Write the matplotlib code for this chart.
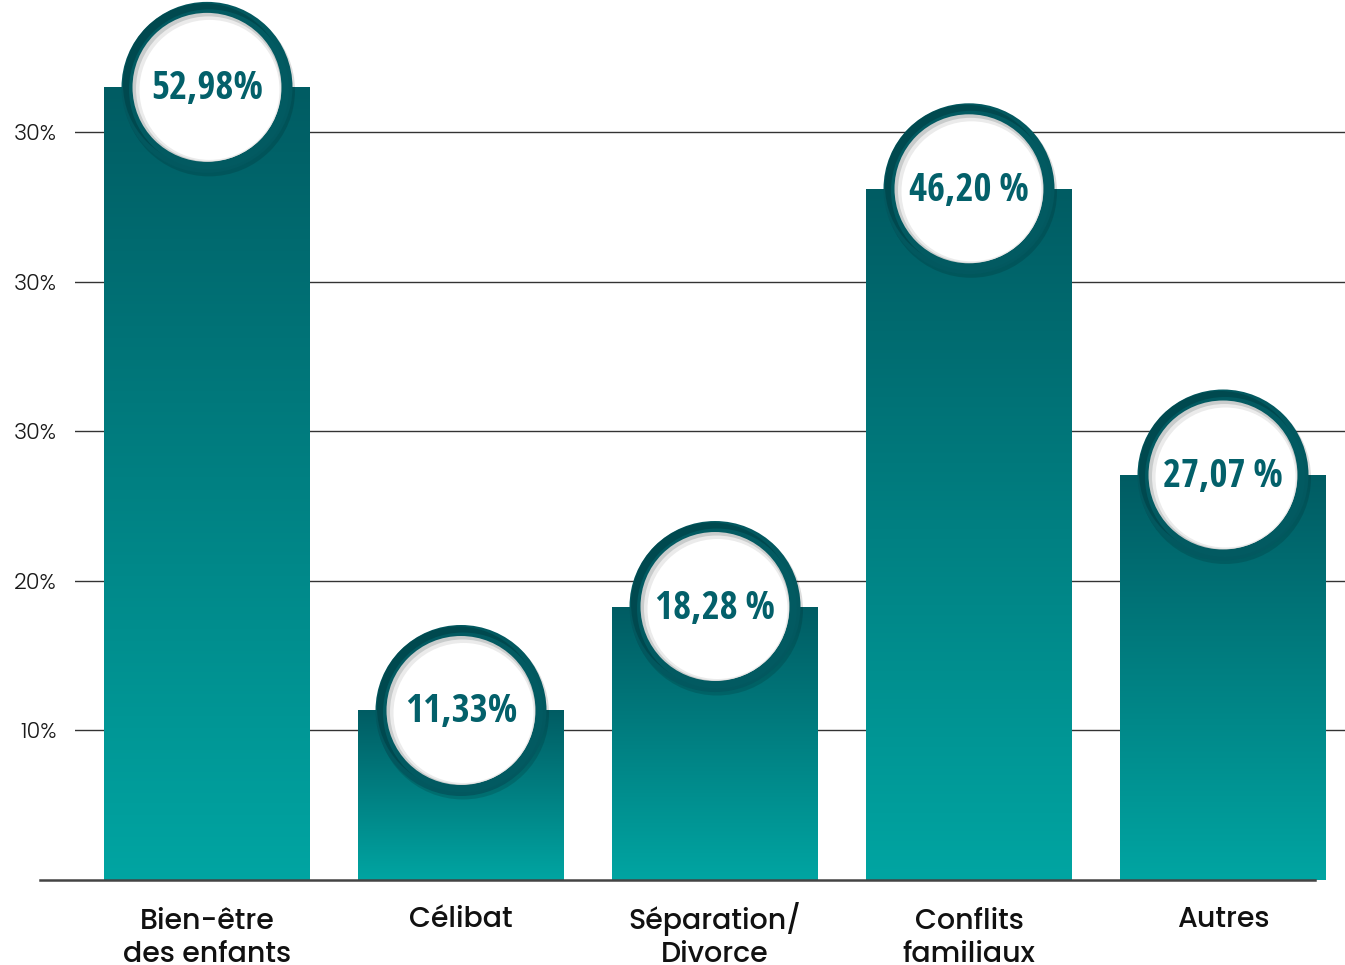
import matplotlib
matplotlib.use("Agg")
import matplotlib.pyplot as plt
import numpy as np
from matplotlib.patches import Circle, Rectangle
from matplotlib.colors import LinearSegmentedColormap
from matplotlib import transforms
from matplotlib import font_manager

categories = ["Bien-être\ndes enfants", "Célibat", "Séparation/\nDivorce", "Conflits\nfamiliaux", "Autres"]
values = [52.98, 11.33, 18.28, 46.20, 27.07]
value_labels = ["52,98%", "11,33%", "18,28\u2009%", "46,20\u2009%", "27,07\u2009%"]
ytick_values = [10, 20, 30, 40, 50]
ytick_labels = ["10%", "20%", "30%", "30%", "30%"]

weights = {}
for f in font_manager.fontManager.ttflist:
    if f.style == "normal":
        weights.setdefault(f.name, set()).add(int(f.weight) if str(f.weight).isdigit() else 400)

def pick(cands, need):
    for c in cands:
        if c in weights and need in weights[c]:
            return [c, "DejaVu Sans"]
    return ["DejaVu Sans"]

cond_font = pick(["Open Sans Condensed", "Roboto Condensed", "IBM Plex Sans Condensed"], 700)
label_font = pick(["Poppins", "Gothic A1", "Hind", "Open Sans", "Lato"], 500)
tick_font = pick(["Poppins", "Hind", "Open Sans", "Lato"], 300)

W, H, DPI = 1345, 965, 100
fig = plt.figure(figsize=(W / DPI, H / DPI), dpi=DPI)
ax = fig.add_axes([75 / W, 85 / H, 1270 / W, 880 / H])
for s in ax.spines.values():
    s.set_visible(False)

ax.set_yticks(ytick_values)
ax.set_yticklabels(ytick_labels, fontsize=16, fontfamily=tick_font, fontweight=300, color="#1a1a1a")
ax.tick_params(axis="y", length=0, pad=13)
ax.yaxis.grid(True, color="#333333", linewidth=1.0)
ax.set_axisbelow(True)

x = np.arange(len(categories))
ax.set_xticks(x)
ax.tick_params(axis="x", length=0, labelbottom=False)

def px(p):
    return p / DPI

# category labels: first line baseline 47 px below the axis, 35 px line pitch
for xi, lab in zip(x, categories):
    n_lines = lab.count("\n") + 1
    off = 47 + 35 * (n_lines - 1)
    ax.text(xi, 0, lab, ha="center", va="baseline", fontsize=20.5, fontfamily=label_font,
            fontweight=500, color="#111111", linespacing=1.25, multialignment="center",
            transform=ax.get_xaxis_transform() + transforms.ScaledTranslation(0, -px(off), fig.dpi_scale_trans),
            clip_on=False)

# baseline
ax.plot([(40 - 75) / 1270, (1315 - 75) / 1270], [0, 0], transform=ax.transAxes,
        color="#444444", linewidth=1.8, clip_on=False, zorder=3)

cmap = LinearSegmentedColormap.from_list("teal", ["#00a5a2", "#005c63"])
grad = np.linspace(0, 1, 256).reshape(-1, 1)
bw = 206 / 254
for xi, v in zip(x, values):
    im = ax.imshow(grad, extent=[xi - bw / 2, xi + bw / 2, 0, v], origin="lower",
                   cmap=cmap, aspect="auto", zorder=2)
    rect = Rectangle((xi - bw / 2, 0), bw, v, transform=ax.transData, facecolor="none", edgecolor="none")
    ax.add_patch(rect)
    im.set_clip_path(rect)

ax.set_xlim(-0.5197, 4.4803)
ax.set_ylim(0, 58.82)

for xi, v, lab in zip(x, values, value_labels):
    base = fig.dpi_scale_trans + transforms.ScaledTranslation(xi, v, ax.transData)
    ax.add_patch(Circle((px(2), px(-3)), px(86), transform=base, facecolor="#00000022",
                        edgecolor="none", zorder=4, clip_on=False))
    ax.add_patch(Circle((0, 0), px(85.5), transform=base, facecolor="#02585f",
                        edgecolor="none", zorder=5, clip_on=False))
    ax.add_patch(Circle((px(-3), px(3)), px(81), transform=base, facecolor="#003d42",
                        edgecolor="none", zorder=5, clip_on=False, alpha=0.55))
    ax.add_patch(Circle((px(2), px(-2)), px(80), transform=base, facecolor="#025a61",
                        edgecolor="none", zorder=5, clip_on=False))
    ax.add_patch(Circle((0, 0), px(74.5), transform=base, facecolor="#c9cccc",
                        edgecolor="none", zorder=6, clip_on=False))
    ax.add_patch(Circle((px(1.5), px(-1.5)), px(72.5), transform=base, facecolor="#ebebeb",
                        edgecolor="none", zorder=6, clip_on=False))
    ax.add_patch(Circle((px(2.5), px(-2.5)), px(70), transform=base, facecolor="#ffffff",
                        edgecolor="none", zorder=6, clip_on=False))
    ax.text(xi, v, lab, ha="center", va="center", fontsize=28, fontweight="bold",
            fontfamily=cond_font, color="#03606a", zorder=7,
            transform=ax.transData + transforms.ScaledTranslation(0, px(-2), fig.dpi_scale_trans))

fig.savefig("out.png", dpi=DPI, facecolor="white")
